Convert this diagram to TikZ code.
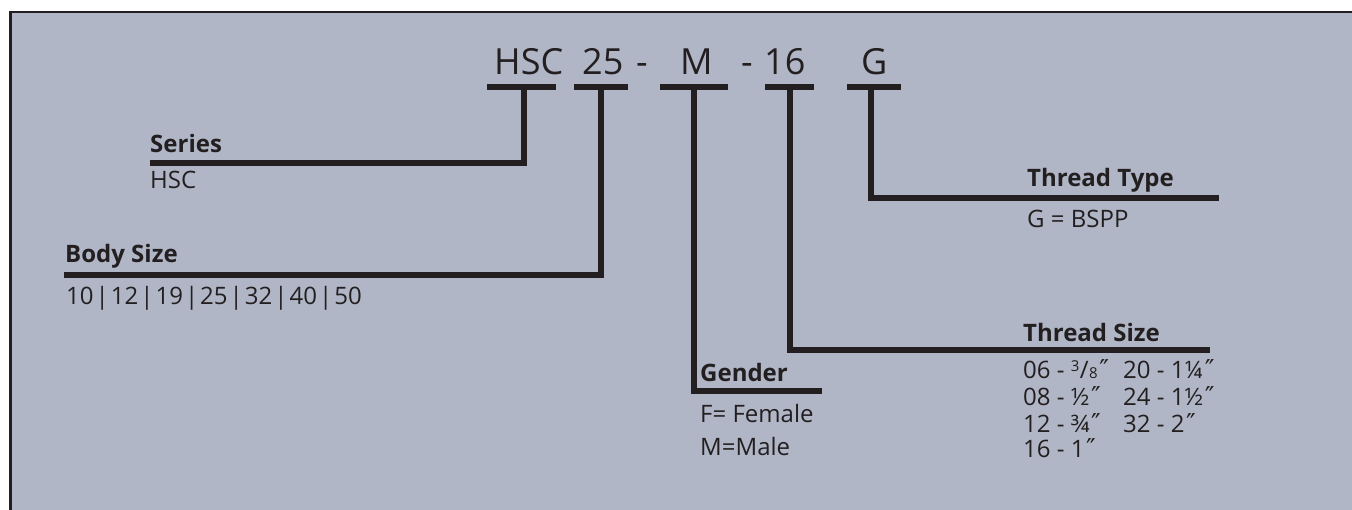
\documentclass[tikz,border=0pt]{standalone}
\usepackage{fontspec}
\setmainfont{Open Sans}
\newfontfamily\primefont{DejaVu Sans}
\definecolor{bgc}{RGB}{176,182,198}
\definecolor{ink}{RGB}{35,31,32}
\newcommand{\inch}{\kern1.5pt{\primefont\fontsize{26}{26}\selectfont ″}}
\newcommand{\threeeighths}{\raisebox{0.3em}{\fontsize{15}{15}\selectfont 3}\kern0.5pt/\kern0.5pt{\fontsize{15}{15}\selectfont 8}}
\newcommand{\vsep}{\hspace{2pt}|\hspace{2pt}}
\tikzset{
  code/.style={anchor=base west, inner sep=0pt, text=ink, font=\fontsize{36}{36}\selectfont},
  head/.style={anchor=base west, inner sep=0pt, text=ink, font=\fontsize{24}{24}\selectfont\bfseries},
  val/.style={anchor=base west, inner sep=0pt, text=ink, font=\fontsize{24}{24}\selectfont},
  bar/.style={draw=ink, line width=6pt, line cap=butt},
  lead/.style={draw=ink, line width=6pt, line cap=butt, line join=miter},
}
\begin{document}
\begin{tikzpicture}[x=1pt,y=-1pt]
\useasboundingbox (0,0) rectangle (1352,510);
\fill[bgc] (10.5,12) rectangle (1352,510);
\draw[ink, line width=2.6pt] (10.5,510) -- (10.5,12) -- (1352,12);

% code letters
\node[code] (cHSC) at (494,75) {HSC};
\node[code] (c25) at (582,75) {25};
\node[code] (d1) at (636,75) {-};
\node[code] (cM) at (680,75) {M};
\node[code] (d2) at (741,75) {-};
\node[code] (c16) at (764,75) {16};
\node[code] (cG) at (861,75) {G};

% bars under code
\coordinate (b1w) at (487,87); \coordinate (b1e) at (556,87); \coordinate (s1) at (524,87);
\coordinate (b2w) at (574,87); \coordinate (b2e) at (628,87); \coordinate (s2) at (601,87);
\coordinate (b3w) at (660,87); \coordinate (b3e) at (728,87); \coordinate (s3) at (694,87);
\coordinate (b4w) at (765,87); \coordinate (b4e) at (814,87); \coordinate (s4) at (790,87);
\coordinate (b5w) at (847,87); \coordinate (b5e) at (901,87); \coordinate (s5) at (871,87);
\draw[bar] (b1w) -- (b1e);
\draw[bar] (b2w) -- (b2e);
\draw[bar] (b3w) -- (b3e);
\draw[bar] (b4w) -- (b4e);
\draw[bar] (b5w) -- (b5e);

% line ends
\coordinate (l1) at (150,163);
\coordinate (l2) at (64,275);
\coordinate (l3) at (822,391.5);
\coordinate (l4) at (1210,350.5);
\coordinate (l5) at (1219,198);

\draw[lead] (l1) -| (s1);
\draw[lead] (l2) -| (s2);
\draw[lead] (s3) |- (l3);
\draw[lead] (s4) |- (l4);
\draw[lead] (s5) |- (l5);

% labels
\node[head] (series) at (150,153) {Series};
\node[val] (seriesv) at (150,189) {HSC};
\node[head] (body) at (65,263) {Body Size};
\node[val] (bodyv) at (66,305) {10\vsep12\vsep19\vsep25\vsep32\vsep40\vsep50};
\node[head] (ttype) at (1027,187) {Thread Type};
\node[val] (ttypev) at (1027,228) {G = BSPP};
\node[head] (tsize) at (1023,342) {Thread Size};
\node[val] (ts1) at (1023,379) {06 - \threeeighths\inch};
\node[val] (ts2) at (1023,406) {08 - ½\inch};
\node[val] (ts3) at (1023,432) {12 - ¾\inch};
\node[val] (ts4) at (1023,457) {16 - 1\inch};
\node[val] (ts5) at (1123,379) {20 - 1¼\inch};
\node[val] (ts6) at (1123,406) {24 - 1½\inch};
\node[val] (ts7) at (1123,432) {32 - 2\inch};
\node[head] (gender) at (700,382) {Gender};
\node[val] (g1) at (700,423) {F= Female};
\node[val] (g2) at (700,455) {M=Male};
\end{tikzpicture}
\end{document}
